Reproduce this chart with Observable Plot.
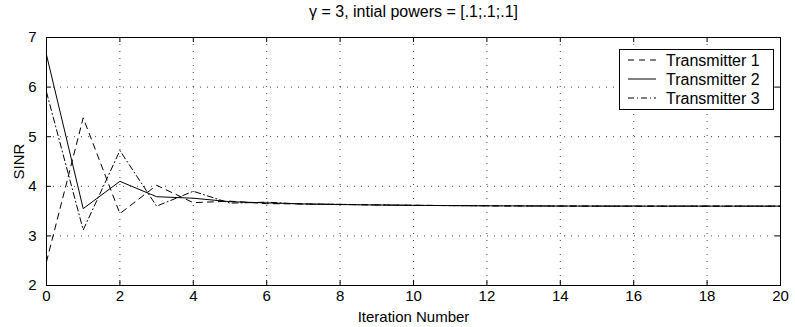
<!DOCTYPE html>
<html>
<head>
<meta charset="utf-8">
<script src="https://cdn.jsdelivr.net/npm/d3@7"></script>
<script src="https://cdn.jsdelivr.net/npm/@observablehq/plot@0.6"></script>
<style>
  html, body { margin: 0; padding: 0; background: #fff; }
  #title { width: 795px; height: 23px; box-sizing: border-box; padding-top: 3px; text-align: center; font: 16px "Liberation Sans", Arial, sans-serif; line-height: 18px; color: #000; padding-left: 32px; }
</style>
</head>
<body>
<div id="title">γ = 3, intial powers = [.1;.1;.1]</div>
<div id="chart"></div>
<script>
const iterations = d3.range(0, 21);
const transmitter1 = [2.48, 5.38, 3.45, 4.02, 3.67, 3.70, 3.65, 3.645, 3.635, 3.625, 3.617, 3.611, 3.607, 3.604, 3.602, 3.601, 3.600, 3.600, 3.600, 3.600, 3.600];
const transmitter2 = [6.65, 3.55, 4.10, 3.79, 3.76, 3.69, 3.665, 3.645, 3.632, 3.623, 3.616, 3.611, 3.607, 3.604, 3.602, 3.601, 3.600, 3.600, 3.600, 3.600, 3.600];
const transmitter3 = [5.90, 3.12, 4.72, 3.60, 3.90, 3.66, 3.68, 3.64, 3.637, 3.624, 3.617, 3.611, 3.607, 3.604, 3.602, 3.601, 3.600, 3.600, 3.600, 3.600, 3.600];
const seriesNames = ["Transmitter 1", "Transmitter 2", "Transmitter 3"];
const xTicks = [0, 2, 4, 6, 8, 10, 12, 14, 16, 18, 20];
const yTicks = [2, 3, 4, 5, 6, 7];

const dashes = {"Transmitter 1": "6,5", "Transmitter 2": null, "Transmitter 3": "6,3,1,3"};
const seriesValues = [transmitter1, transmitter2, transmitter3];
const data = seriesNames.flatMap((name, s) => iterations.map((it, i) => ({name, x: it, y: seriesValues[s][i]})));

const font = '"Liberation Sans", Arial, sans-serif';
const W = 795, H = 304;
const gridX = xTicks.slice(1, -1), gridY = yTicks.slice(1, -1);

const plot = Plot.plot({
  width: W, height: H,
  marginLeft: 46, marginRight: 15, marginTop: 14, marginBottom: 42,
  style: {fontFamily: font, fontSize: "15px", color: "#000", background: "#fff"},
  x: {domain: [0, 20], ticks: xTicks},
  y: {domain: [2, 7], ticks: yTicks},
  marks: [
    Plot.ruleX(gridX, {stroke: "#000", strokeOpacity: 0.75, strokeWidth: 1, strokeDasharray: "1,6"}),
    Plot.ruleY(gridY, {stroke: "#000", strokeOpacity: 0.75, strokeWidth: 1, strokeDasharray: "1,6"}),
    // inward ticks on all four sides
    Plot.tickX(xTicks, {x: d => d, insetTop: 243, stroke: "#000"}),
    Plot.tickX(xTicks, {x: d => d, insetBottom: 243, stroke: "#000"}),
    Plot.tickY(yTicks, {y: d => d, insetRight: 729, stroke: "#000"}),
    Plot.tickY(yTicks, {y: d => d, insetLeft: 729, stroke: "#000"}),
    ...seriesNames.map(name => Plot.line(data.filter(d => d.name === name), {
      x: "x", y: "y", stroke: "#000", strokeWidth: 1, strokeDasharray: dashes[name], strokeLinejoin: "miter"
    })),
    Plot.axisX({ticks: xTicks, tickSize: 0, tickPadding: 5, fontSize: 15, tickFormat: d3.format("d"), label: "Iteration Number", labelAnchor: "center", labelArrow: "none", labelOffset: 36}),
    Plot.axisY({ticks: yTicks, tickSize: 0, tickPadding: 10, fontSize: 15, tickFormat: d3.format("d"), label: "SINR", labelAnchor: "center", labelArrow: "none", labelOffset: 33}),
    Plot.frame({stroke: "#000", strokeWidth: 1})
  ]
});

document.getElementById("chart").appendChild(plot);

// Legend (MATLAB-style box)
const svg = d3.select(plot);
const lg = svg.append("g").attr("font-family", font).attr("font-size", 16).attr("text-anchor", "start");
const lx = 619, ly = 49 - 23, lw = 154, lh = 60;
lg.append("rect").attr("x", lx + 0.5).attr("y", ly + 0.5).attr("width", lw).attr("height", lh)
  .attr("fill", "#fff").attr("stroke", "#000");
seriesNames.forEach((name, i) => {
  const cy = ly + 11 + i * 19;
  lg.append("line").attr("x1", lx + 9).attr("x2", lx + 37).attr("y1", cy).attr("y2", cy)
    .attr("stroke", "#000").attr("stroke-dasharray", dashes[name]);
  lg.append("text").attr("x", lx + 47).attr("y", cy).attr("dy", "0.35em").attr("text-anchor", "start").text(name);
});
</script>
</body>
</html>
